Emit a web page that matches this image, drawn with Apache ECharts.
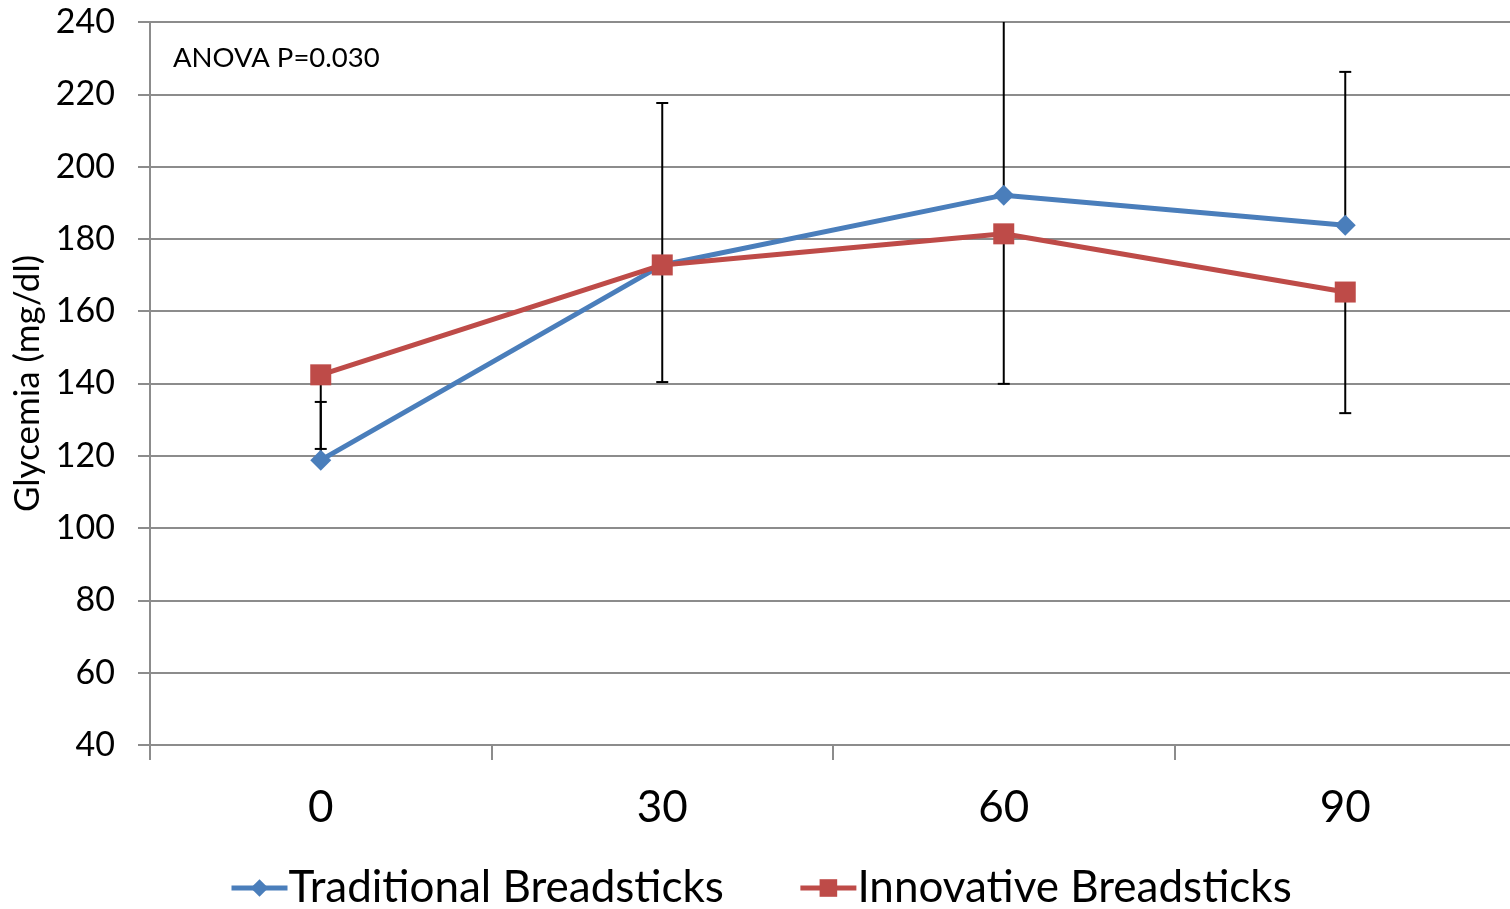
<!DOCTYPE html>
<html>
<head>
<meta charset="utf-8">
<script src="https://cdn.jsdelivr.net/npm/echarts@6/dist/echarts.min.js"></script>
<style>
html,body{margin:0;padding:0;background:#fff;overflow:hidden;}
#chart{width:1516px;height:909px;}
</style>
</head>
<body>
<div id="chart"></div>
<script>
// Sampling times (minutes)
const times = ['0', '30', '60', '90'];
// Mean glycemia (mg/dl)
const traditional = [118.8, 172.8, 192.1, 183.8];
const innovative = [142.4, 172.8, 181.4, 165.3];
// Standard deviations: shown upward for traditional, downward for innovative
const traditionalSD = [16.1, 44.8, 58.0, 42.4];
const innovativeSD = [20.5, 32.4, 41.5, 33.5];
const yTicks = { min: 40, max: 240, step: 20 };

const FONT = 'Lato, "Open Sans", sans-serif';
const GRID_COLOR = '#8c8c8c';
const BLUE = '#4a7ebb';
const RED = '#be4b48';

// rows: [category index, mean, low, high]
const traditionalBars = times.map((t, i) => [i, traditional[i], traditional[i], traditional[i] + traditionalSD[i]]);
const innovativeBars = times.map((t, i) => [i, innovative[i], innovative[i] - innovativeSD[i], innovative[i]]);

function errorBar(params, api) {
  const idx = api.value(0);
  const lo = api.coord([idx, api.value(2)]);
  const hi = api.coord([idx, api.value(3)]);
  const cap = 6;
  const style = { stroke: '#000', lineWidth: 2, fill: null };
  const children = [
    { type: 'line', shape: { x1: lo[0], y1: lo[1], x2: hi[0], y2: hi[1] }, style }
  ];
  if (api.value(2) !== api.value(1)) {
    children.push({ type: 'line', shape: { x1: lo[0] - cap, y1: lo[1], x2: lo[0] + cap, y2: lo[1] }, style });
  }
  if (api.value(3) !== api.value(1)) {
    children.push({ type: 'line', shape: { x1: hi[0] - cap, y1: hi[1], x2: hi[0] + cap, y2: hi[1] }, style });
  }
  return { type: 'group', children };
}

const chart = echarts.init(document.getElementById('chart'));
chart.setOption({
  animation: false,
  textStyle: { fontFamily: FONT },
  grid: { left: 150, top: 22, right: 0, bottom: 164, containLabel: false },
  legend: {
    bottom: -6,
    left: 224,
    itemGap: 74,
    itemWidth: 56,
    itemHeight: 22,
    textStyle: { fontSize: 44, color: '#000', fontFamily: FONT, padding: [0, 0, 0, -4] },
    data: [
      { name: 'Traditional Breadsticks', lineStyle: { width: 5 } },
      { name: 'Innovative Breadsticks', lineStyle: { width: 5 } }
    ]
  },
  graphic: [{
    type: 'text',
    left: 173,
    top: 44,
    style: { text: 'ANOVA P=0.030', fontSize: 27.5, fill: '#000', fontFamily: FONT }
  }],
  xAxis: {
    type: 'category',
    data: times,
    boundaryGap: true,
    axisLine: { lineStyle: { color: GRID_COLOR, width: 2 } },
    axisTick: { show: true, length: 15, lineStyle: { color: GRID_COLOR, width: 2 } },
    axisLabel: { fontSize: 44, color: '#000', margin: 41, fontFamily: FONT },
    splitLine: { show: false }
  },
  yAxis: {
    type: 'value',
    min: yTicks.min,
    max: yTicks.max,
    interval: yTicks.step,
    name: 'Glycemia (mg/dl)',
    nameLocation: 'middle',
    nameGap: 102,
    nameTextStyle: { fontSize: 35, color: '#000', fontFamily: FONT },
    axisLine: { show: true, lineStyle: { color: GRID_COLOR, width: 2 } },
    axisTick: { show: true, length: 12, lineStyle: { color: GRID_COLOR, width: 2 } },
    axisLabel: { fontSize: 34, color: '#000', margin: 35, fontFamily: FONT },
    splitLine: { show: true, lineStyle: { color: GRID_COLOR, width: 2 } }
  },
  series: [
    {
      name: 'Traditional Breadsticks SD',
      type: 'custom',
      renderItem: errorBar,
      data: traditionalBars,
      encode: { x: 0, y: [2, 3] },
      clip: true,
      z: 1,
      silent: true
    },
    {
      name: 'Innovative Breadsticks SD',
      type: 'custom',
      renderItem: errorBar,
      data: innovativeBars,
      encode: { x: 0, y: [2, 3] },
      clip: true,
      z: 1,
      silent: true
    },
    {
      name: 'Traditional Breadsticks',
      type: 'line',
      data: traditional,
      symbol: 'diamond',
      symbolSize: 21,
      z: 3,
      lineStyle: { color: BLUE, width: 5 },
      itemStyle: { color: BLUE }
    },
    {
      name: 'Innovative Breadsticks',
      type: 'line',
      data: innovative,
      symbol: 'rect',
      symbolSize: 21,
      z: 4,
      lineStyle: { color: RED, width: 5 },
      itemStyle: { color: RED }
    }
  ]
});
</script>
</body>
</html>
